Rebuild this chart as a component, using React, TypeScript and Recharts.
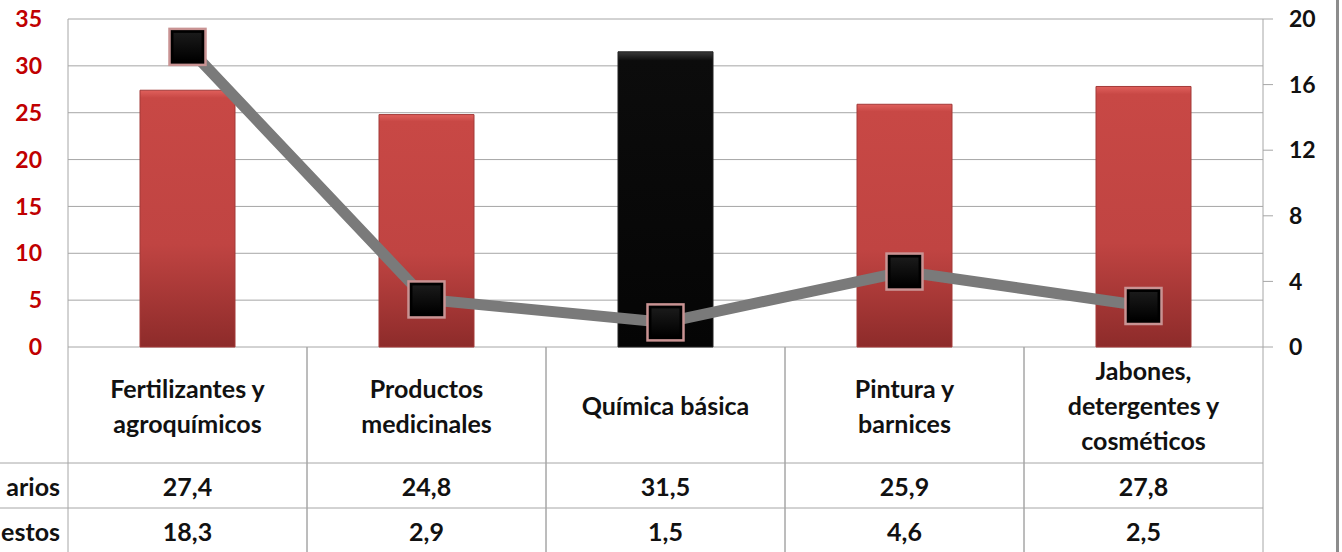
import React from 'react'
import { Bar, Cell, ComposedChart, CartesianGrid, Line, XAxis, YAxis } from 'recharts'

const categories = [
  'Fertilizantes y\nagroquímicos',
  'Productos\nmedicinales',
  'Química básica',
  'Pintura y\nbarnices',
  'Jabones,\ndetergentes y\ncosméticos',
]
const barValues = [27.4, 24.8, 31.5, 25.9, 27.8]
const lineValues = [18.3, 2.9, 1.5, 4.6, 2.5]
const rowLabels = ['arios', 'estos']
const leftTicks = [0, 5, 10, 15, 20, 25, 30, 35]
const rightTicks = [0, 4, 8, 12, 16, 20]

const data = categories.map((name, i) => ({
  name,
  bar: barValues[i],
  line: lineValues[i],
}))

const highlight = 2
const gridColor = '#a6a6a6'
const fmt = (v: number) => v.toFixed(1).replace('.', ',')

const TableTick = (props: any) => {
  const { x, y, payload, index } = props
  const half = payload.offset || 119.5
  const top = y
  const headerH = 116
  const rowH = 45
  const lines = String(payload.value).split('\n')
  const lh = 35
  const midHeader = top + headerH / 2
  const startY = midHeader - ((lines.length - 1) * lh) / 2
  const rows = [barValues[index], lineValues[index]]
  return (
    <g>
      <line x1={x - half} x2={x - half} y1={top} y2={552} stroke={gridColor} />
      <line x1={x + half} x2={x + half} y1={top} y2={552} stroke={gridColor} />
      {[0, 1].map((r) => (
        <line
          key={r}
          x1={index === 0 ? 0 : x - half}
          x2={x + half}
          y1={top + headerH + r * rowH}
          y2={top + headerH + r * rowH}
          stroke={gridColor}
        />
      ))}
      {lines.map((t, i) => (
        <text key={i} x={x} y={startY + i * lh} textAnchor="middle" dominantBaseline="central"
          fontSize={25} fontWeight="bold" fill="#111">
          {t}
        </text>
      ))}
      {rows.map((v, r) => (
        <text key={r} x={x} y={top + headerH + r * rowH + rowH / 2} textAnchor="middle" dominantBaseline="central"
          fontSize={25} fontWeight="bold" fill="#111">
          {fmt(v)}
        </text>
      ))}
      {index === 0 &&
        rowLabels.map((l, r) => (
          <text key={l} x={x - half - 8} y={top + headerH + r * rowH + rowH / 2} textAnchor="end"
            dominantBaseline="central" fontSize={25} fontWeight="bold" fill="#111">
            {l}
          </text>
        ))}
    </g>
  )
}

const SquareDot = (props: any) => {
  const { cx, cy } = props
  if (cx == null || cy == null) return null
  const s = 36
  return (
    <g>
      <rect x={cx - s / 2} y={cy - s / 2} width={s} height={s} fill="#000" stroke="#c99393" strokeWidth={2.5} />
      <rect x={cx - s / 2 + 4} y={cy - s / 2 + 4} width={s - 8} height={s - 8} fill="url(#dotFill)" />
    </g>
  )
}

export default function App() {
  return (
    <div style={{ position: 'fixed', left: 0, top: 0, width: 1342, height: 552, overflow: 'hidden', fontFamily: 'Lato, sans-serif', background: '#fff' }}>
      <ComposedChart width={1342} height={552} data={data} margin={{ top: 19, right: 0, left: 0, bottom: 0 }} barCategoryGap={0}>
        <defs>
          <linearGradient id="redBar" x1="0" y1="0" x2="0" y2="1">
            <stop offset="0" stopColor="#e0605c" />
            <stop offset="0.03" stopColor="#c84845" />
            <stop offset="0.6" stopColor="#c04442" />
            <stop offset="1" stopColor="#8d2b2a" />
          </linearGradient>
          <linearGradient id="blackBar" x1="0" y1="0" x2="0" y2="1">
            <stop offset="0" stopColor="#3a3a3a" />
            <stop offset="0.03" stopColor="#0c0c0c" />
            <stop offset="1" stopColor="#050505" />
          </linearGradient>
          <linearGradient id="dotFill" x1="0" y1="0" x2="0" y2="1">
            <stop offset="0" stopColor="#1a1a1a" />
            <stop offset="1" stopColor="#000" />
          </linearGradient>
        </defs>
        <CartesianGrid vertical={false} stroke={gridColor} yAxisId="left" />
        <XAxis
          dataKey="name"
          height={205}
          tick={<TableTick />}
          tickLine={false}
          axisLine={false}
          tickSize={0}
          tickMargin={0}
          interval={0}
        />
        <YAxis
          yAxisId="left"
          width={68}
          domain={[0, 35]}
          ticks={leftTicks}
          tickLine={false}
          axisLine={{ stroke: gridColor }}
          tickSize={0}
          tickMargin={26}
          tick={{ fill: '#c00000', fontSize: 23, fontWeight: 'bold' }}
        />
        <YAxis
          yAxisId="right"
          orientation="right"
          width={79}
          domain={[0, 20]}
          ticks={rightTicks}
          tickLine={{ stroke: gridColor }}
          axisLine={{ stroke: gridColor }}
          tickSize={10}
          tickMargin={16}
          tick={{ fill: '#111', fontSize: 23, fontWeight: 'bold', textAnchor: 'start' }}
        />
        <Bar yAxisId="left" dataKey="bar" barSize={95} isAnimationActive={false}>
          {data.map((_, i) => (
            <Cell key={i} fill={i === highlight ? 'url(#blackBar)' : 'url(#redBar)'} stroke={i === highlight ? '#222' : '#a33a38'} strokeWidth={1} />
          ))}
        </Bar>
        <Line
          yAxisId="right"
          dataKey="line"
          type="linear"
          stroke="#7a7a7a"
          strokeWidth={11}
          dot={<SquareDot />}
          activeDot={false}
          isAnimationActive={false}
        />
      </ComposedChart>
      {/* right edge of the chart frame */}
      <div style={{ position: 'absolute', left: 1336, top: 0, width: 3, height: 552, background: '#8c8c8c' }} />
    </div>
  )
}
